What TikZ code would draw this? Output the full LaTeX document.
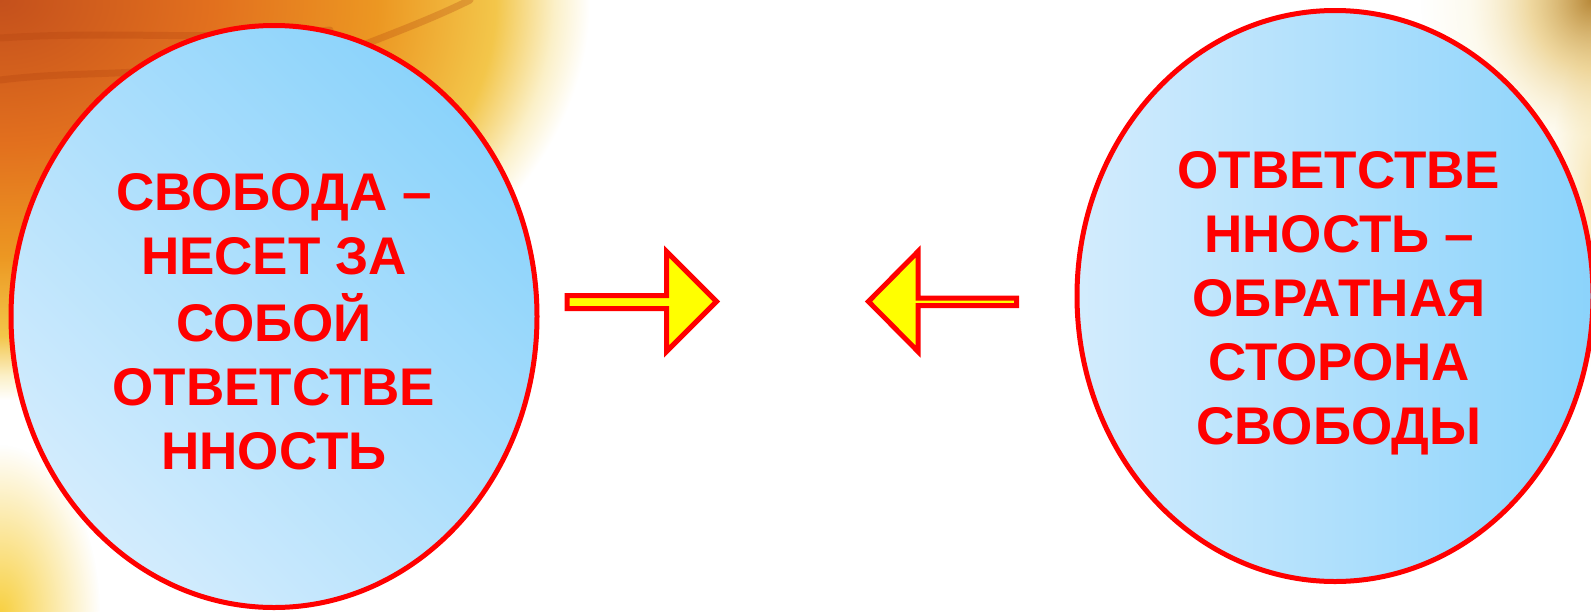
\documentclass[tikz,border=0pt]{standalone}
\usepackage{fontspec}
\setmainfont{Liberation Sans}
\usetikzlibrary{shapes.geometric,fadings}
\definecolor{txtred}{HTML}{FF0000}
\definecolor{arrowyellow}{HTML}{FFFF00}
\definecolor{ellLight}{HTML}{D3ECFD}
\definecolor{ellDark}{HTML}{8BD3FB}
\definecolor{bgA}{HTML}{C4501C}
\definecolor{bgB}{HTML}{E2701E}
\definecolor{bgC}{HTML}{EC9722}
\definecolor{bgD}{HTML}{F3C64A}
\definecolor{bgE}{HTML}{FBF0C8}
\definecolor{trA}{HTML}{B8893A}
\definecolor{trB}{HTML}{E6C26A}
\definecolor{trC}{HTML}{FAF0C8}
\definecolor{streak}{HTML}{B0400E}
\definecolor{glowY}{HTML}{F8D040}
\definecolor{edgeO}{HTML}{F6E2A8}
\pgfdeclareradialshading{bgtl}{\pgfpoint{0bp}{0bp}}{color(0bp)=(bgA); color(9bp)=(bgB); color(16bp)=(bgC); color(21bp)=(bgD); color(23.5bp)=(bgE); color(25bp)=(white); color(50bp)=(white)}
\pgfdeclareradialshading{bgtr}{\pgfpoint{0bp}{0bp}}{color(0bp)=(trA); color(9bp)=(trB); color(18bp)=(trC); color(25bp)=(trC); color(50bp)=(trC)}
\tikzfading[name=softglow, inner color=transparent!0, outer color=transparent!100]
\tikzset{
  bubble/.style={ellipse, draw=txtred, line width=5pt, inner sep=0pt},
  bubbletext/.style={anchor=base, inner sep=0pt, text=txtred,
    font=\bfseries\fontsize{53}{64}\selectfont},
  blockarrow/.style={draw=txtred, fill=arrowyellow, line width=5pt, line join=miter},
  streakline/.style={draw=streak, line width=7pt, opacity=0.28, line cap=round},
  glow/.style={path fading=softglow}
}
\begin{document}
\begin{tikzpicture}[x=1pt,y=-1pt]
\useasboundingbox (0,0) rectangle (1591,611);
\clip (0,0) rectangle (1591,611);
\fill[white] (0,0) rectangle (1591,611);
% background decoration
\shade[shading=bgtl] (0,0) ellipse [x radius=590, y radius=400];
\draw[streakline] (0,38) .. controls (120,30) and (220,42) .. (330,30);
\draw[streakline] (0,80) .. controls (80,70) and (150,78) .. (230,60);
\draw[streakline] (300,70) .. controls (360,45) and (420,25) .. (470,0);
\fill[glowY, glow] (0,615) ellipse [x radius=100, y radius=170];
\fill[edgeO, glow] (1600,200) ellipse [x radius=50, y radius=170];
\shade[shading=bgtr, glow] (1591,0) ellipse [x radius=170, y radius=190];
% bubbles
\node[bubble, minimum width=526pt, minimum height=582pt,
      top color=ellDark, bottom color=ellLight, shading angle=-45] (L) at (274,316.5) {};
\node[bubble, minimum width=516pt, minimum height=571pt,
      left color=ellLight, right color=ellDark] (R) at (1335,296) {};
\node[bubbletext] (Ltext) at (274,210) {\begin{tabular}[t]{@{}c@{}}СВОБОДА –\\НЕСЕТ ЗА\\СОБОЙ\\ОТВЕТСТВЕ\\ННОСТЬ\end{tabular}};
\node[bubbletext] (Rtext) at (1339,188) {\begin{tabular}[t]{@{}c@{}}ОТВЕТСТВЕ\\ННОСТЬ –\\ОБРАТНАЯ\\СТОРОНА\\СВОБОДЫ\end{tabular}};
% arrows
\draw[blockarrow] (567,295.5) -- (666.5,295.5) -- (666.5,251.5) -- (716.5,301.5)
  -- (666.5,351.5) -- (666.5,308.5) -- (567,308.5) -- cycle;
\draw[blockarrow] (1016.5,298) -- (918,298) -- (918,251.5) -- (868.5,301.5)
  -- (918,351.5) -- (918,305.5) -- (1016.5,305.5) -- cycle;
\end{tikzpicture}
\end{document}
